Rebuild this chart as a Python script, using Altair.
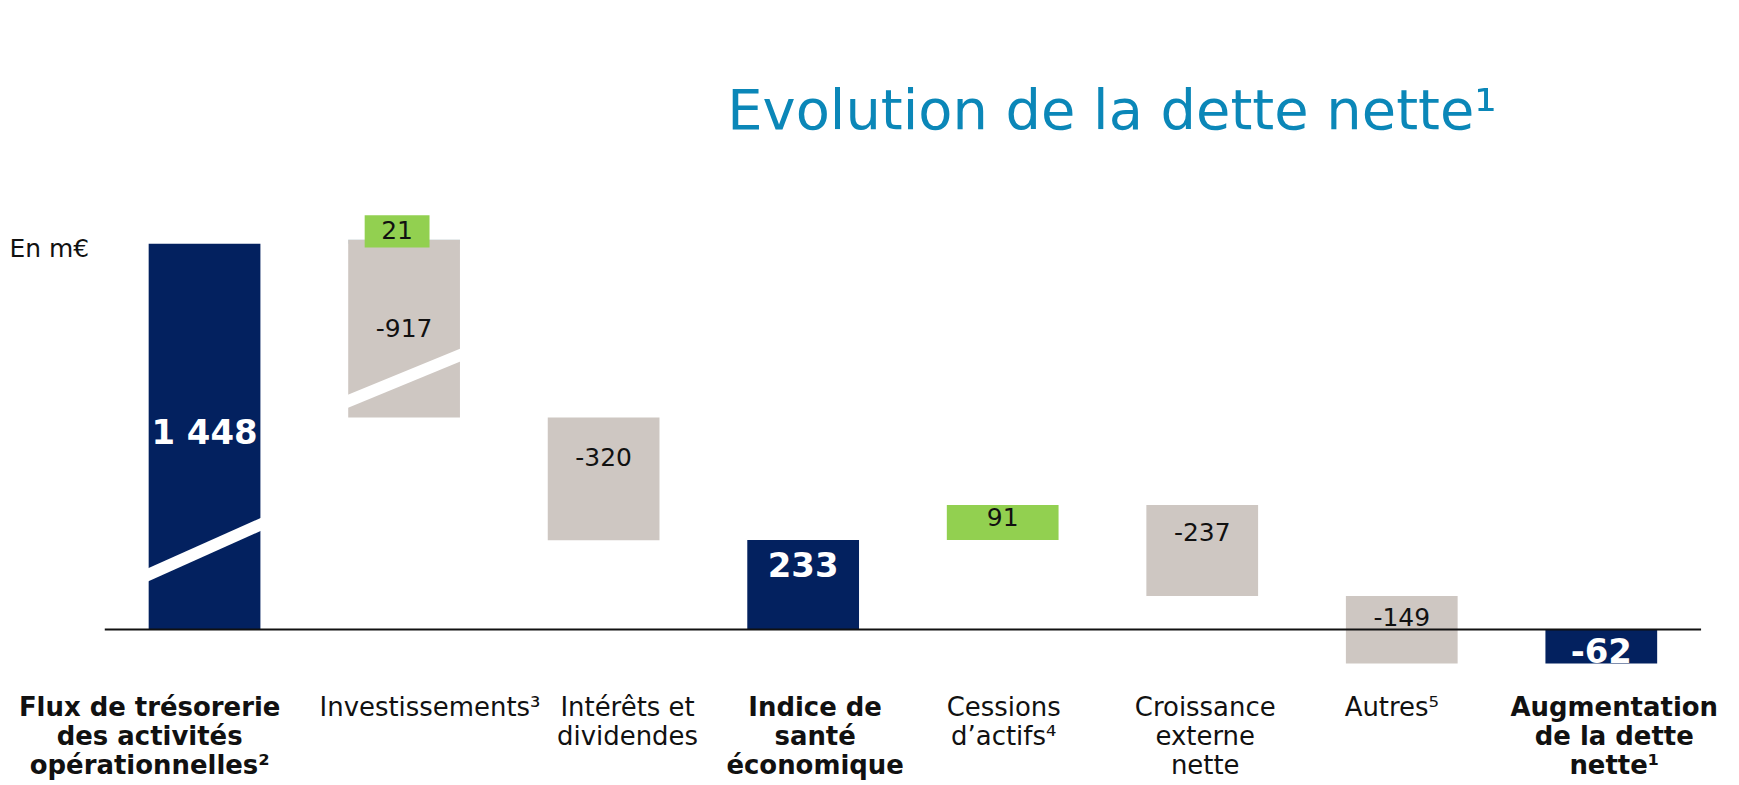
import altair as alt
import pandas as pd
import numpy as np

# ---------------- data ----------------
categories = [
    "Flux de trésorerie\ndes activités\nopérationnelles²",
    "Investissements³",
    "Intérêts et\ndividendes",
    "Indice  de\nsanté\néconomique",
    "Cessions\nd’actifs⁴",
    "Croissance\nexterne\nnette",
    "Autres⁵",
    "Augmentation\nde la dette\nnette¹",
]
category_bold = [True, False, False, True, False, False, False, True]
label_nudge_px = [-55, 26, 24, 12, 1, 3, -10, 13]

step_category = [0, 1, 1, 2, 3, 4, 5, 6, 7]
step_value = [1448, 21, -917, -320, 233, 91, -237, -149, -62]
step_kind = ["total", "delta", "delta", "delta", "total", "delta", "delta", "delta", "total"]
step_label = ["1 448", "21", "-917", "-320", "233", "91", "-237", "-149", "-62"]
step_label_nudge_px = [-3, 0, 0, -21, -18, -4, -18, -12, 7]

NAVY = "#03215f"
GRAY = "#cec7c2"
GREEN = "#92d050"
LBLUE = "#bfdfea"
step_color = [NAVY, LBLUE, GRAY, GRAY, NAVY, GREEN, GRAY, GRAY, NAVY]
step_label_style = ["white", "box", "dark", "dark", "white", "dark", "dark", "dark", "white"]

# scale-break stripes (values in m€ where the white cut crosses each bar edge)
break_category = [0, 1]
break_from = [136, 588]
break_to = [280, 853]

# ---------------- broken (piecewise) y scale ----------------
Y_DOMAIN = [-155, 0, 600, 1560]
Y_RANGE = [525.0, 440.0, 209.0, 32.8]


def px(v):
    return float(np.interp(v, Y_DOMAIN, Y_RANGE))


def inv(p):
    return float(np.interp(p, Y_RANGE[::-1], Y_DOMAIN[::-1]))


starts, ends, label_y = [], [], []
running = 0
for kind, v, nudge in zip(step_kind, step_value, step_label_nudge_px):
    if kind == "total":
        s, e = 0, v
    else:
        s, e = running, running + v
    running = e
    starts.append(s)
    ends.append(e)
    label_y.append(inv((px(s) + px(e)) / 2 + nudge))

steps = pd.DataFrame({
    "cat": step_category,
    "start": starts,
    "end": ends,
    "color": step_color,
    "label": step_label,
    "style": step_label_style,
    "ly": label_y,
})
steps.loc[steps["style"] == "box", "ly"] = steps.loc[steps["style"] == "box", "end"]

cats = pd.DataFrame({
    "idx": list(range(len(categories))),
    "name": categories,
    "bold": category_bold,
    "nudge": label_nudge_px,
})

breaks = pd.DataFrame({"cat": break_category, "v0": break_from, "v1": break_to})

FONT = "DejaVu Sans"
xscale = alt.Scale(domain=[-0.5, 7.5], nice=False, zero=False)
yscale = alt.Scale(domain=Y_DOMAIN, range=Y_RANGE, nice=False, zero=False)

yaxis = alt.Axis(
    title="En m€", labels=False, ticks=False, domain=False, grid=False,
    titleAngle=0, titleAlign="left", titleBaseline="middle",
    titleX=-96, titleY=58, titleFont=FONT, titleFontSize=25,
    titleFontWeight="normal", titleColor="#111111",
)


def Y(field):
    return alt.Y(field, scale=yscale, axis=yaxis)


def X(field):
    return alt.X(field, scale=xscale, axis=None)


base = alt.Chart(steps)

bars = base.mark_rect().transform_calculate(
    xa="datum.cat - 0.28", xb="datum.cat + 0.28"
).encode(
    x=X("xa:Q"), x2="xb:Q",
    y=Y("start:Q"), y2="end:Q",
    color=alt.Color("color:N", scale=None),
)

stripes = alt.Chart(breaks).mark_rule(color="white", strokeWidth=12, strokeCap="butt").transform_calculate(
    xa="datum.cat - 0.31", xb="datum.cat + 0.31"
).encode(
    x=X("xa:Q"), x2="xb:Q",
    y=Y("v0:Q"), y2="v1:Q",
)

baseline = alt.Chart(pd.DataFrame({"v": [0]})).mark_rule(color="#111111", strokeWidth=2).encode(
    y=Y("v:Q")
)

white_labels = base.transform_filter("datum.style == 'white'").mark_text(
    font=FONT, fontSize=34, fontWeight="bold", color="white", baseline="middle"
).encode(x=X("cat:Q"), y=Y("ly:Q"), text="label:N")

dark_labels = base.transform_filter("datum.style == 'dark'").mark_text(
    font=FONT, fontSize=25, color="#111111", baseline="middle"
).encode(x=X("cat:Q"), y=Y("ly:Q"), text="label:N")

box_shape = base.transform_filter("datum.style == 'box'").mark_point(
    shape="M-1,-0.5H1V0.5H-1Z", size=4225, filled=True, color=GREEN, opacity=1,
    xOffset=-7, yOffset=-8.5,
).encode(x=X("cat:Q"), y=Y("ly:Q"))

box_labels = base.transform_filter("datum.style == 'box'").mark_text(
    font=FONT, fontSize=25, color="#111111", baseline="middle", dx=-7, dy=-8.5
).encode(x=X("cat:Q"), y=Y("ly:Q"), text="label:N")

cat_common = dict(font=FONT, fontSize=26, color="#111111", baseline="top",
                  align="center", lineBreak="\n", lineHeight=29)

cat_bold = alt.Chart(cats).transform_filter("datum.bold").transform_calculate(
    lx="datum.idx + datum.nudge / 200"
).mark_text(fontWeight="bold", **cat_common).encode(
    x=X("lx:Q"), y=alt.value(506), text="name:N",
)

cat_norm = alt.Chart(cats).transform_filter("!datum.bold").transform_calculate(
    lx="datum.idx + datum.nudge / 200"
).mark_text(fontWeight="normal", **cat_common).encode(
    x=X("lx:Q"), y=alt.value(506), text="name:N",
)

chart = alt.layer(
    bars, stripes, baseline, box_shape, white_labels, dark_labels, box_labels, cat_bold, cat_norm
).properties(
    width=1600,
    height=500,
    padding={"left": 97, "top": 182, "right": 30, "bottom": 95},
    autosize=alt.AutoSizeParams(type="none"),
    title=alt.TitleParams(
        text="Evolution de la dette nette¹",
        anchor="start", frame="group", dx=624, dy=52, offset=58,
        baseline="alphabetic",
        font=FONT, fontSize=56, fontWeight="normal", color="#0b87b8",
    ),
).configure(font=FONT).configure_view(stroke=None)

chart.save("out.html", embed_options={"renderer": "svg", "actions": False})
